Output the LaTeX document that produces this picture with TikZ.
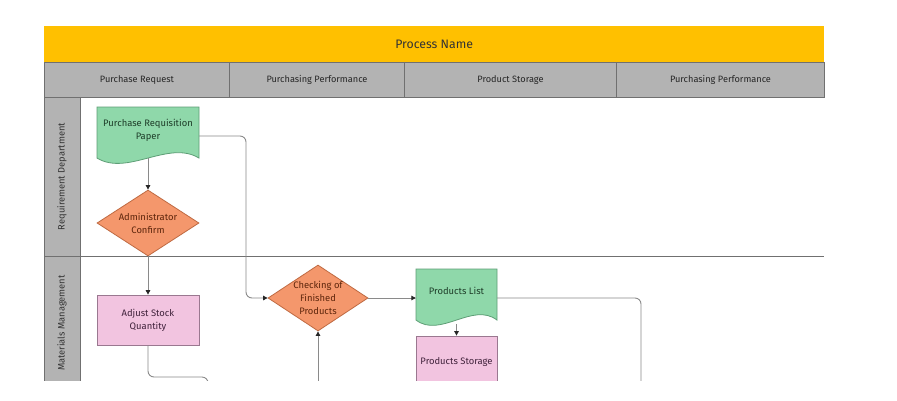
\documentclass[tikz,border=0pt]{standalone}
\usepackage{fontspec}
\setmainfont{Fira Sans}
\usetikzlibrary{shapes.geometric,arrows.meta,calc}
\definecolor{titlebg}{HTML}{FFC000}
\definecolor{cellbg}{HTML}{B3B3B3}
\definecolor{gridln}{HTML}{707070}
\definecolor{connln}{HTML}{8A8A8A}
\definecolor{docfill}{HTML}{8FD8AA}
\definecolor{docline}{HTML}{5E9E76}
\definecolor{doctext}{HTML}{1E3D29}
\definecolor{decfill}{HTML}{F4976C}
\definecolor{decline}{HTML}{BF6A42}
\definecolor{dectext}{HTML}{5E260C}
\definecolor{procfill}{HTML}{F2C4E0}
\definecolor{procline}{HTML}{9A7890}
\definecolor{proctext}{HTML}{40223B}
\definecolor{tipcol}{HTML}{262626}
\newcommand\docpath[4]{%
  \filldraw[fill=docfill,draw=docline,line width=0.8pt]
    ({#1},{#2}) -- ({#1+#3},{#2}) -- ({#1+#3},{#2+0.88*#4})
    .. controls ({#1+0.7*#3},{#2+0.56*#4}) and ({#1+0.3*#3},{#2+1.2*#4}) ..
    ({#1},{#2+0.88*#4}) -- cycle;}
\begin{document}
\begin{tikzpicture}[x=1pt,y=-1pt,
  every node/.style={font=\fontsize{9.4}{13}\selectfont, inner sep=0pt},
  hdrcell/.style={draw=gridln, line width=1pt, fill=cellbg, anchor=north west, minimum height=35pt, text=black!85, font=\fontsize{9.2}{11}\selectfont},
  lanecell/.style={draw=gridln, line width=1pt, fill=cellbg, rotate=90, minimum width=#1, minimum height=36pt, text=black!80, font=\fontsize{9.3}{11}\selectfont},
  docbox/.style={minimum width=#1, draw=none},
  decbox/.style={shape=diamond, aspect=1.5, inner sep=-2.5pt, fill=decfill, draw=decline, line width=0.8pt, text=dectext, align=center},
  procbox/.style={fill=procfill, draw=procline, line width=0.8pt, text=proctext, align=center},
  conn/.style={draw=connln, line width=0.9pt, rounded corners=6pt},
  arr/.style={-{Triangle[length=4.5pt,width=4.5pt,color=tipcol]}},
]
\useasboundingbox (0,0) rectangle (897,400);
\fill[white] (0,0) rectangle (897,400);
\begin{scope}
\clip (0,0) rectangle (897,380.5);
% title bar
\node[fill=titlebg, anchor=north west, minimum width=780pt, minimum height=36pt,
      font=\fontsize{12.3}{14}\selectfont, text=black!80] (title) at (44,26) {Process Name};
% column headers
\node[hdrcell, minimum width=185pt] (c1) at (44,62) {Purchase Request};
\node[hdrcell, minimum width=175pt] (c2) at (229,62) {Purchasing Performance};
\node[hdrcell, minimum width=212pt] (c3) at (404,62) {Product Storage};
\node[hdrcell, minimum width=208pt] (c4) at (616,62) {Purchasing Performance};
% lane labels
\node[lanecell=159pt] (l1) at (62,176.5) {Requirement Department};
\node[lanecell=134pt] (l2) at (62,323) {Materials Management};
\draw[gridln, line width=1pt] (44,256) -- (824,256);
% shapes
\docpath{97}{107}{102}{58}
\node[docbox=102pt, minimum height=58pt] (prp) at (148,136) {};
\node[text=doctext, align=center] (prpt) at (148,130) {Purchase Requisition\\Paper};
\node[decbox, minimum width=102pt, minimum height=66pt] (adm) at (148,223) {Administrator\\Confirm};
\node[procbox, minimum width=102pt, minimum height=50pt] (adj) at (148,320) {Adjust Stock\\Quantity};
\node[decbox, minimum width=100pt, minimum height=66pt] (chk) at (318,298) {Checking of\\Finished\\Products};
\docpath{416}{269}{81}{58}
\node[docbox=81pt, minimum height=58pt] (pl) at (456.5,298) {};
\node[text=doctext] (plt) at (456.5,291) {Products List};
\node[procbox, minimum width=81pt, minimum height=52pt] (ps) at (456.5,362) {Products Storage};
% free ends
\coordinate (e1) at (208,420);
\coordinate (e2) at (641,420);
\coordinate (e3) at (318,420);
% connectors
\draw[conn, arr] (prp.center |- 0,158) -- (adm.north);
\draw[conn, arr] (prp.east) -- (246,136) |- (chk.west);
\draw[conn, arr] (adm.south) -- (adj.north);
\draw[conn] (adj.south) |- (208,377) -- (e1);
\draw[conn, arr] (chk.east) -- (pl.west);
\draw[conn, arr] (pl.center |- 0,324) -- (ps.north);
\draw[conn] (pl.east) -| (e2);
\draw[conn, arr] (e3) -- (chk.south);
\end{scope}
\end{tikzpicture}
\end{document}
